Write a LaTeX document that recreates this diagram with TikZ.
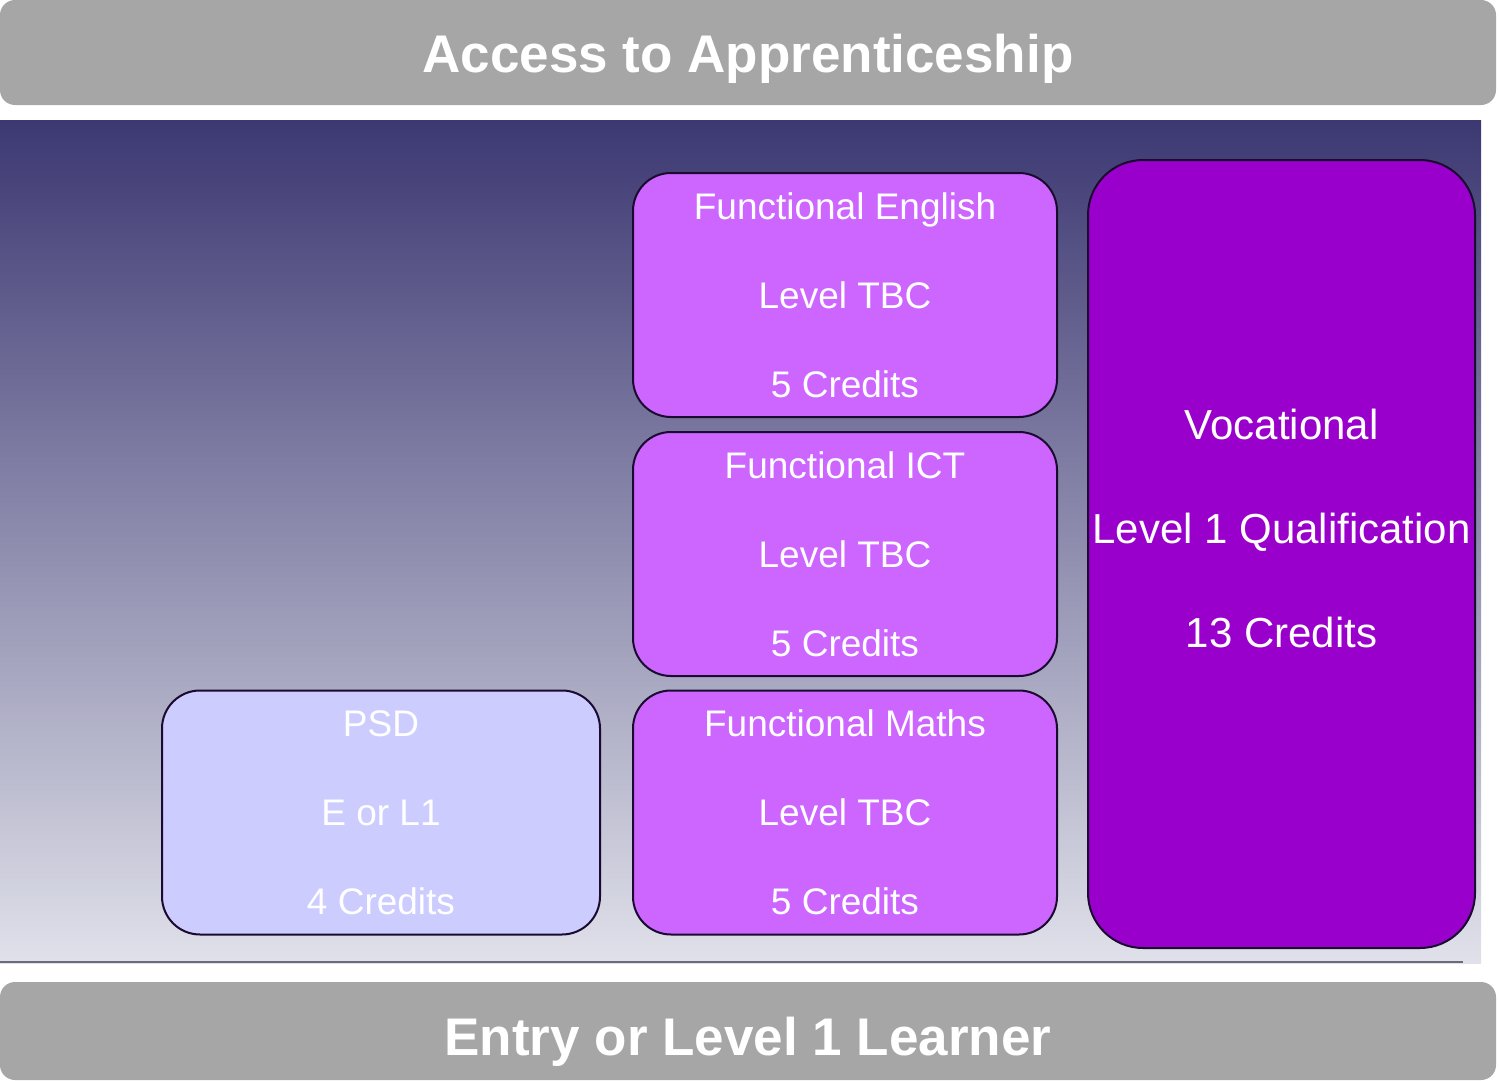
\documentclass[tikz,border=0pt]{standalone}
\usepackage{fontspec}
\setmainfont{Liberation Sans}
\definecolor{barGray}{HTML}{A6A6A6}
\definecolor{panelTop}{HTML}{3C3872}
\definecolor{panelMid}{HTML}{A6A6BC}
\definecolor{panelBot}{HTML}{E0E1EA}
\definecolor{psdFill}{HTML}{CCCCFF}
\definecolor{funcFill}{HTML}{CC66FF}
\definecolor{vocFill}{HTML}{9900CC}
\definecolor{boxLine}{HTML}{1A0A30}
\definecolor{panelLine}{HTML}{6A6A78}
\begin{document}
\begin{tikzpicture}[x=1pt,y=-1pt,
  bar/.style={fill=barGray, draw=none, rounded corners=15pt, minimum width=1496pt, minimum height=#1, inner sep=0pt, text=white, text depth=0pt, font=\bfseries\fontsize{53}{60}\selectfont},
  unitbox/.style={draw=boxLine, line width=2pt, rounded corners=38pt, inner sep=0pt, align=center, text=white, font=\fontsize{37}{89}\selectfont},
  smallbox/.style={unitbox, minimum width=#1, minimum height=244pt},
  vocbox/.style={draw=boxLine, line width=2pt, rounded corners=55pt, fill=vocFill, inner sep=0pt},
  voctext/.style={align=center, text=white, inner sep=0pt, font=\fontsize{42}{104}\selectfont}]
\useasboundingbox (0,0) rectangle (1499,1081);
% bars
\node[bar=105pt, text height=41pt] (top) at (748,52.5) {Access to Apprenticeship};
\node[bar=98pt, text height=48pt] (bottom) at (748,1031) {Entry or Level 1 Learner};
% gradient panel
\shade[top color=panelTop, middle color=panelMid, bottom color=panelBot] (0,120) rectangle (1481,963);
\draw[panelLine, line width=2.5pt] (0,962) -- (1463,962);
% boxes
\node[smallbox=438pt, fill=psdFill] (psd) at (381,812.5) {PSD\\E or L1\\4 Credits};
\node[smallbox=424pt, fill=funcFill] (eng) at (845,295) {Functional English\\Level TBC\\5 Credits};
\node[smallbox=424pt, fill=funcFill] (ict) at (845,554) {Functional ICT\\Level TBC\\5 Credits};
\node[smallbox=424pt, fill=funcFill] (maths) at (845,812.5) {Functional Maths\\Level TBC\\5 Credits};
\node[vocbox, minimum width=387pt, minimum height=788pt] (voc) at (1281.5,554) {};
\node[voctext] (vocl) at (1281.5,528) {Vocational\\Level 1 Qualification\\13 Credits};
\end{tikzpicture}
\end{document}
